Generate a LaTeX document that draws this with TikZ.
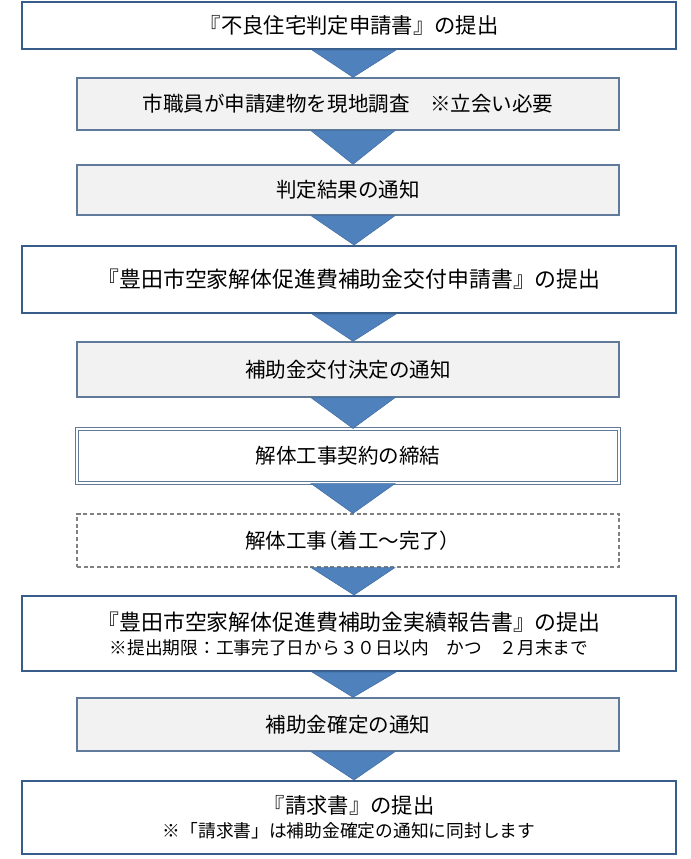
\documentclass[tikz,border=0pt]{standalone}
\usepackage{fontspec}
\setmainfont{Noto Sans CJK JP}
\definecolor{boxblue}{RGB}{56,93,138}
\definecolor{greyblue}{RGB}{96,122,153}
\definecolor{boxgrey}{RGB}{242,242,242}
\definecolor{triblue}{RGB}{79,129,189}
\definecolor{triedge}{RGB}{64,108,160}
\definecolor{dashgrey}{RGB}{128,128,128}
\newcommand{\subfont}{\fontsize{13.3}{16}\selectfont}
\newcommand{\bigfont}{\fontsize{16.4}{18}\selectfont}
\begin{document}
\begin{tikzpicture}[x=0.75pt, y=-0.75pt,
    wide/.style={draw=boxblue, line width=1.5pt, fill=white, minimum width=490.5pt,
      font=\fontsize{16}{18}\selectfont, align=center, inner sep=0pt},
    narrow/.style={draw=greyblue, line width=1pt, fill=boxgrey, minimum width=406.5pt,
      font=\fontsize{15.4}{18}\selectfont, align=center, inner sep=0pt},
    twin/.style={narrow, fill=white, draw=greyblue, double=white, double distance=1pt, line width=0.8pt},
    dashbox/.style={narrow, fill=white, draw=dashgrey, line width=0.8pt, dash pattern=on 3pt off 2pt},
    tri/.style={fill=triblue, draw=triedge, line width=0.4pt}]
    \useasboundingbox (0,0) rectangle (690,859);
    %Boxes
    \node[wide, minimum height=35.25pt] (b1) at (349,25.5) {『不良住宅判定申請書』の提出};
    \node[narrow, minimum height=39pt] (b2) at (348,104) {市職員が申請建物を現地調査　※立会い必要};
    \node[narrow, minimum height=37.5pt] (b3) at (348,190) {判定結果の通知};
    \node[wide, minimum height=50.25pt, font=\bigfont] (b4) at (349,279.5) {『豊田市空家解体促進費補助金交付申請書』の提出};
    \node[narrow, minimum height=41.25pt] (b5) at (348,369.5) {補助金交付決定の通知};
    \node[twin, minimum height=40.5pt] (b6) at (348,456) {解体工事契約の締結};
    \node[dashbox, minimum height=39.75pt] (b7) at (348,540.5)
      {解体工事{\addfontfeature{RawFeature=+palt}（}着工～完了{\addfontfeature{RawFeature=+palt}）}};
    \node[wide, minimum height=56.25pt, font=\bigfont] (b8) at (349,633.5)
      {『豊田市空家解体促進費補助金実績報告書』の提出\\{\subfont ※提出期限：工事完了日から３０日以内　かつ　２月末まで}};
    \node[narrow, minimum height=39.75pt] (b9) at (348,724.5) {補助金確定の通知};
    \node[wide, minimum height=54.75pt] (b10) at (349,817.5)
      {『請求書』の提出\\{\subfont ※「請求書」は補助金確定の通知に同封します}};
    %Arrows
    \foreach \a/\b in {b1/b2, b2/b3, b3/b4, b4/b5, b5/b6, b6/b7, b7/b8, b8/b9, b9/b10}
      \filldraw[tri] ([xshift=-27.75pt]\a.south) -- ([xshift=35.25pt]\a.south)
        -- ([xshift=3.75pt]\b.north) -- cycle;
\end{tikzpicture}
\end{document}
